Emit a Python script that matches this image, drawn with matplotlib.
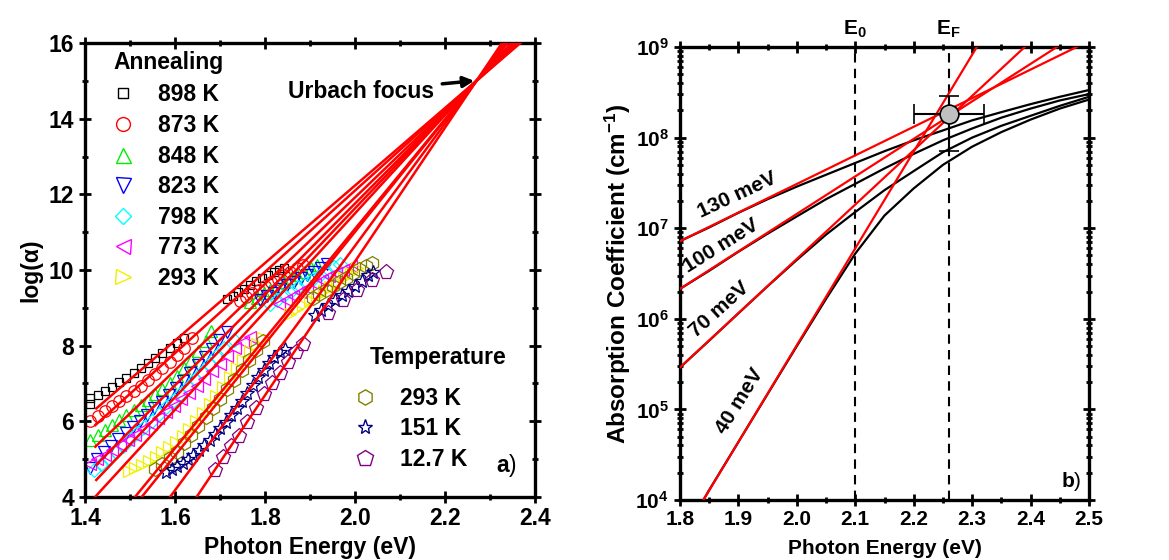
import numpy as np
import matplotlib
matplotlib.use('Agg')
import matplotlib.pyplot as plt
from matplotlib.lines import Line2D
from matplotlib.ticker import MultipleLocator, FixedLocator, FixedFormatter, LogLocator, NullFormatter

plt.rcParams['font.family'] = ['Liberation Sans', 'DejaVu Sans']
plt.rcParams['font.weight'] = 'bold'
plt.rcParams['axes.labelweight'] = 'bold'
plt.rcParams['mathtext.fontset'] = 'custom'
plt.rcParams['mathtext.rm'] = 'Liberation Sans:bold'
plt.rcParams['mathtext.it'] = 'Liberation Sans:bold'
plt.rcParams['mathtext.bf'] = 'Liberation Sans:bold'

# ---------------- panel a) data: photon energy (eV) vs log(alpha) ----------------
E_898 = [1.412, 1.412, 1.428, 1.444, 1.460, 1.476, 1.492, 1.508, 1.524, 1.540, 1.556, 1.572, 1.588, 1.604, 1.620,
         1.715, 1.728, 1.741, 1.754, 1.767, 1.780, 1.793, 1.806, 1.819, 1.832, 1.842]
y_898 = [6.45, 6.62, 6.70, 6.80, 6.92, 7.03, 7.14, 7.27, 7.40, 7.53, 7.67, 7.80, 7.94, 8.08, 8.20,
         9.23, 9.32, 9.42, 9.51, 9.60, 9.70, 9.79, 9.87, 9.94, 10.00, 10.05]

E_873 = [1.412, 1.428, 1.444, 1.460, 1.476, 1.492, 1.508, 1.524, 1.540, 1.556, 1.572, 1.588, 1.604, 1.620, 1.637,
         1.744, 1.758, 1.772, 1.786, 1.800, 1.814, 1.828, 1.842, 1.856, 1.870, 1.885]
y_873 = [6.02, 6.15, 6.27, 6.40, 6.53, 6.66, 6.80, 6.94, 7.09, 7.24, 7.40, 7.57, 7.75, 7.95, 8.20,
         9.18, 9.28, 9.38, 9.48, 9.58, 9.68, 9.77, 9.86, 9.95, 10.04, 10.12]

E_848 = [1.412, 1.428, 1.444, 1.460, 1.476, 1.492, 1.508, 1.524, 1.540, 1.556, 1.572, 1.588, 1.604, 1.620, 1.636,
         1.652, 1.668, 1.680,
         1.767, 1.782, 1.797, 1.812, 1.827, 1.842, 1.857, 1.872, 1.887, 1.902, 1.915]
y_848 = [5.50, 5.64, 5.77, 5.90, 6.03, 6.17, 6.30, 6.43, 6.57, 6.71, 6.85, 7.02, 7.20, 7.40, 7.62,
         7.86, 8.12, 8.38,
         9.16, 9.27, 9.38, 9.48, 9.58, 9.68, 9.78, 9.87, 9.96, 10.05, 10.13]

E_823 = [1.410, 1.426, 1.442, 1.458, 1.474, 1.490, 1.506, 1.522, 1.538, 1.554, 1.570, 1.586, 1.602, 1.618, 1.634,
         1.650, 1.666, 1.682, 1.698, 1.715,
         1.789, 1.804, 1.819, 1.834, 1.849, 1.864, 1.879, 1.894, 1.909, 1.924, 1.937]
y_823 = [4.76, 5.00, 5.18, 5.35, 5.52, 5.68, 5.84, 6.00, 6.17, 6.34, 6.52, 6.70, 6.88, 7.07, 7.27,
         7.48, 7.70, 7.92, 8.15, 8.37,
         9.20, 9.30, 9.40, 9.50, 9.60, 9.69, 9.78, 9.87, 9.96, 10.06, 10.16]

E_798 = [1.420, 1.436, 1.452, 1.468, 1.484, 1.500, 1.516, 1.532, 1.548, 1.564, 1.580, 1.596, 1.612, 1.628, 1.644,
         1.660, 1.676, 1.692, 1.708, 1.730,
         1.810, 1.826, 1.842, 1.858, 1.874, 1.890, 1.906, 1.922, 1.938, 1.954, 1.967]
y_798 = [4.72, 4.88, 5.04, 5.20, 5.36, 5.52, 5.68, 5.85, 6.02, 6.19, 6.37, 6.55, 6.73, 6.92, 7.11,
         7.31, 7.51, 7.72, 7.93, 8.15,
         9.10, 9.22, 9.33, 9.44, 9.55, 9.66, 9.76, 9.86, 9.96, 10.07, 10.17]

E_773 = [1.410, 1.427, 1.444, 1.461, 1.478, 1.495, 1.512, 1.529, 1.546, 1.563, 1.580, 1.597, 1.614, 1.631, 1.648,
         1.665, 1.682, 1.699, 1.716, 1.733, 1.750, 1.767,
         1.830, 1.846, 1.862, 1.878, 1.894, 1.910, 1.926, 1.942, 1.958, 1.974, 1.990]
y_773 = [4.88, 5.00, 5.12, 5.25, 5.38, 5.51, 5.65, 5.79, 5.94, 6.09, 6.25, 6.41, 6.58, 6.76, 6.94,
         7.13, 7.32, 7.52, 7.73, 7.94, 8.10, 8.22,
         9.10, 9.21, 9.32, 9.43, 9.53, 9.63, 9.73, 9.83, 9.92, 10.01, 10.10]

E_293a = [1.497, 1.512, 1.527, 1.542, 1.557, 1.572, 1.587, 1.602, 1.617, 1.632, 1.647, 1.662, 1.677, 1.692, 1.707,
          1.722, 1.737, 1.752, 1.767, 1.782, 1.796,
          1.856, 1.870, 1.885, 1.900, 1.915, 1.930, 1.945, 1.960, 1.975, 1.990, 2.005]
y_293a = [4.68, 4.76, 4.85, 4.95, 5.06, 5.18, 5.31, 5.46, 5.62, 5.80, 6.00, 6.22, 6.45, 6.68, 6.92,
          7.16, 7.40, 7.63, 7.85, 8.04, 8.20,
          8.85, 8.97, 9.08, 9.20, 9.32, 9.44, 9.56, 9.68, 9.80, 9.92, 10.04]

E_293t = [1.556, 1.572, 1.588, 1.604, 1.620, 1.636, 1.652, 1.668, 1.684, 1.700, 1.716, 1.732, 1.748, 1.764, 1.780, 1.796,
          1.907, 1.921, 1.935, 1.950, 1.965, 1.980, 1.995, 2.010, 2.024, 2.037]
y_293t = [4.74, 4.86, 5.02, 5.20, 5.42, 5.65, 5.88, 6.12, 6.36, 6.60, 6.85, 7.10, 7.36, 7.62, 7.88, 8.12,
          9.25, 9.36, 9.47, 9.58, 9.69, 9.80, 9.91, 10.02, 10.11, 10.18]

E_151 = [1.581, 1.593, 1.605, 1.617, 1.629, 1.641, 1.653, 1.665, 1.677, 1.689, 1.701, 1.713, 1.725, 1.737, 1.749,
         1.761, 1.773, 1.785, 1.797, 1.809, 1.821, 1.833, 1.845,
         1.911, 1.925, 1.940, 1.955, 1.970, 1.985, 2.000, 2.015, 2.030, 2.040]
y_151 = [4.67, 4.74, 4.82, 4.91, 5.01, 5.12, 5.24, 5.37, 5.51, 5.66, 5.82, 5.98, 6.16, 6.35, 6.55,
         6.76, 6.97, 7.17, 7.37, 7.55, 7.70, 7.82, 7.92,
         8.81, 8.93, 9.07, 9.20, 9.33, 9.45, 9.58, 9.72, 9.86, 9.96]

E_127 = [1.689, 1.707, 1.725, 1.743, 1.761, 1.779, 1.797, 1.815, 1.833, 1.851, 1.869, 1.885,
         1.941, 1.974, 2.004, 2.037, 2.070]
y_127 = [4.72, 5.06, 5.35, 5.62, 5.98, 6.36, 6.72, 7.02, 7.28, 7.56, 7.82, 8.05,
         8.86, 9.20, 9.48, 9.74, 9.96]

# Urbach fits: start point of each red line, all passing through the focus
fit_E_start = [1.425, 1.423, 1.423, 1.425, 1.425, 1.423, 1.511, 1.526, 1.589, 1.648]
fit_y_start = [6.34, 5.90, 5.33, 4.85, 4.45, 4.01, 4.0, 4.0, 4.0, 4.0]
focus_E, focus_y = 2.27, 15.0

annealing_labels = ['898 K', '873 K', '848 K', '823 K', '798 K', '773 K', '293 K']
temperature_labels = ['293 K', '151 K', '12.7 K']

# ---------------- panel b) data: absorption coefficient (cm^-1) ----------------
E_grid = [1.80, 1.85, 1.90, 1.95, 2.00, 2.05, 2.10, 2.15, 2.20, 2.25, 2.30, 2.35, 2.40, 2.45, 2.50]
a_130 = [7.2e6, 1.02e7, 1.48e7, 2.09e7, 2.88e7, 3.89e7, 5.25e7, 7.08e7, 9.33e7, 1.20e8, 1.55e8, 1.91e8, 2.34e8, 2.82e8, 3.35e8]
a_100 = [2.14e6, 3.39e6, 5.5e6, 8.7e6, 1.35e7, 2.09e7, 3.09e7, 4.57e7, 6.61e7, 9.33e7, 1.26e8, 1.66e8, 2.09e8, 2.57e8, 3.02e8]
a_70 = [2.9e5, 5.75e5, 1.15e6, 2.29e6, 4.47e6, 8.5e6, 1.51e7, 2.63e7, 4.27e7, 6.9e7, 1.0e8, 1.35e8, 1.74e8, 2.24e8, 2.82e8]
E_40 = [1.84, 1.85, 1.90, 1.95, 2.00, 2.05, 2.10, 2.15, 2.20, 2.25, 2.30, 2.35, 2.40, 2.45, 2.50]
a_40 = [1.0e4, 1.29e4, 4.37e4, 1.48e5, 5.0e5, 1.66e6, 5.25e6, 1.38e7, 2.75e7, 5.0e7, 7.94e7, 1.15e8, 1.58e8, 2.09e8, 2.63e8]

# exponential (Urbach) tails, straight on the log scale: two end points each
tail_E = [[1.80, 2.479], [1.80, 2.445], [1.80, 2.39], [1.84, 2.308]]
tail_a = [[7.2e6, 1e9], [2.14e6, 1e9], [2.9e5, 1e9], [1.0e4, 1e9]]
tail_labels = ['130 meV', '100 meV', '70 meV', '40 meV']
tail_label_E = [1.897, 1.871, 1.868, 1.903]
tail_label_a = [2.3e7, 6.4e6, 1.27e6, 1.25e5]
tail_label_rot = [25, 32, 42, 58]

E_0, E_F = 2.10, 2.26
focus_a = 1.8e8
focus_a_err = [1.08e8, 1.1e8]
focus_E_err = 0.06

fs_a = 16.5
fs_b = 15

fig = plt.figure(figsize=(11.69, 5.6), dpi=100)
ax1 = fig.add_axes([85/1169, 63/560, 450/1169, 454/560])
ax2 = fig.add_axes([680/1169, 60/560, 409/1169, 453/560])

# ---- panel a ----
series = [
    (E_898, y_898, 's', 'black', 6.2),
    (E_873, y_873, 'o', 'red', 8.3),
    (E_848, y_848, '^', '#00ee00', 9),
    (E_823, y_823, 'v', 'blue', 9),
    (E_798, y_798, 'D', 'cyan', 7.2),
    (E_773, y_773, '<', 'magenta', 9),
    (E_293a, y_293a, '>', '#f0f000', 9),
    (E_293t, y_293t, 'h', '#808000', 10),
    (E_151, y_151, '*', '#000080', 10),
    (E_127, y_127, 'p', '#800080', 11),
]
for E, y, m, c, ms in series:
    ax1.plot(E, y, ls='none', marker=m, ms=ms, mfc='none', mec=c, mew=0.9, zorder=2)

for x0, y0 in zip(fit_E_start, fit_y_start):
    x1 = x0 + 1.25 * (focus_E - x0)
    y1 = y0 + 1.25 * (focus_y - y0)
    ax1.plot([x0, x1], [y0, y1], color='red', lw=1.8, zorder=3)

ax1.set_xlim(1.4, 2.4)
ax1.set_ylim(4, 16)
ax1.xaxis.set_major_locator(MultipleLocator(0.2))
ax1.xaxis.set_minor_locator(MultipleLocator(0.1))
ax1.yaxis.set_major_locator(MultipleLocator(2))
ax1.yaxis.set_minor_locator(MultipleLocator(1))
ax1.xaxis.set_major_formatter(plt.FuncFormatter(lambda v, p: '%.1f' % v))
ax1.set_xlabel('Photon Energy (eV)', fontsize=fs_a, labelpad=4)
ax1.set_ylabel('log(α)', fontsize=fs_a, labelpad=4)

leg_a = [Line2D([], [], ls='none', marker=s[2], mfc='none', mec=s[3], mew=1.0, ms=s[4] * 1.2)
         for s in series[:7]]
legA = ax1.legend(leg_a, annealing_labels, loc='upper left',
                  bbox_to_anchor=(0.043, 0.926), frameon=False, fontsize=fs_a,
                  handlelength=1.0, handletextpad=1.05, labelspacing=0.33, borderpad=0.3,
                  borderaxespad=0)
ax1.add_artist(legA)
leg_t = [Line2D([], [], ls='none', marker=s[2], mfc='none', mec=s[3], mew=1.0, ms=s[4] * 1.1)
         for s in series[7:]]
ax1.legend(leg_t, temperature_labels, loc='upper left',
           bbox_to_anchor=(0.581, 0.258), frameon=False, fontsize=fs_a,
           handlelength=1.0, handletextpad=1.05, labelspacing=0.33, borderpad=0.3,
           borderaxespad=0)
ax1.text(0.064, 0.958, 'Annealing', transform=ax1.transAxes, fontsize=fs_a, ha='left', va='center')
ax1.text(0.633, 0.308, 'Temperature', transform=ax1.transAxes, fontsize=fs_a, ha='left', va='center')

ax1.annotate('Urbach focus', xy=(2.265, 15.0), xytext=(2.013, 14.72), fontsize=fs_a,
             ha='center', va='center',
             arrowprops=dict(arrowstyle='-|>', lw=2.5, color='black', mutation_scale=16,
                             shrinkA=4, shrinkB=0))
ax1.text(2.342, 4.82, 'a', fontsize=fs_a, ha='right', va='center')
ax1.text(2.342, 4.82, ')', fontsize=fs_a, ha='left', va='center', fontweight='normal')

# ---- panel b ----
for E, a in [(E_grid, a_130), (E_grid, a_100), (E_grid, a_70), (E_40, a_40)]:
    ax2.plot(E, a, color='black', lw=1.6, zorder=2)
for E, a in zip(tail_E, tail_a):
    ax2.plot(E, a, color='red', lw=1.6, zorder=3)
for lab, x, a, r in zip(tail_labels, tail_label_E, tail_label_a, tail_label_rot):
    ax2.text(x, a, lab, fontsize=fs_b, rotation=r, ha='center', va='center', rotation_mode='anchor')

for x in (E_0, E_F):
    ax2.axvline(x, color='black', lw=1.5, ls=(0, (4.5, 3)), zorder=1)
ax2.errorbar(E_F, focus_a, xerr=focus_E_err, yerr=[[focus_a_err[0]], [focus_a_err[1]]],
             fmt='o', ms=13.5, mfc='#c0c0c0', mec='black', mew=1.2, ecolor='black',
             elinewidth=1.5, capsize=7.5, capthick=1.5, zorder=5)

tr = ax2.get_xaxis_transform()
ax2.text(E_0, 1.015, 'E$_0$', transform=tr, fontsize=fs_b, ha='center', va='bottom')
ax2.text(E_F, 1.015, 'E$_F$', transform=tr, fontsize=fs_b, ha='center', va='bottom')

ax2.set_yscale('log')
ax2.set_xlim(1.8, 2.5)
ax2.set_ylim(1e4, 1e9)
ax2.xaxis.set_major_locator(MultipleLocator(0.1))
ax2.xaxis.set_minor_locator(MultipleLocator(0.05))
ax2.xaxis.set_major_formatter(plt.FuncFormatter(lambda v, p: '%.1f' % v))
decades = [1e4, 1e5, 1e6, 1e7, 1e8, 1e9]
ax2.yaxis.set_major_locator(FixedLocator(decades))
ax2.yaxis.set_major_formatter(FixedFormatter(['$10^{%d}$' % int(round(np.log10(d))) for d in decades]))
ax2.yaxis.set_minor_locator(LogLocator(base=10, subs=np.arange(2, 10), numticks=20))
ax2.yaxis.set_minor_formatter(NullFormatter())
ax2.set_xlabel('Photon Energy (eV)', fontsize=fs_b, labelpad=7)
ax2.set_ylabel('Absorption Coefficient (cm$^{-1}$)', fontsize=17.5, labelpad=2)
ax2.text(2.475, 1.6e4, 'b', fontsize=fs_b, ha='right', va='center')
ax2.text(2.475, 1.6e4, ')', fontsize=fs_b, ha='left', va='center', fontweight='normal')

for ax, fs in ((ax1, fs_a), (ax2, fs_b)):
    for sp in ax.spines.values():
        sp.set_linewidth(2.4)
    ax.tick_params(which='both', direction='inout', top=True, right=True, labelsize=fs, width=2)
    ax.tick_params(which='major', length=9)
    ax.tick_params(which='minor', length=5)
    ax.tick_params(axis='x', pad=3)

fig.savefig('out.png', dpi=100)
